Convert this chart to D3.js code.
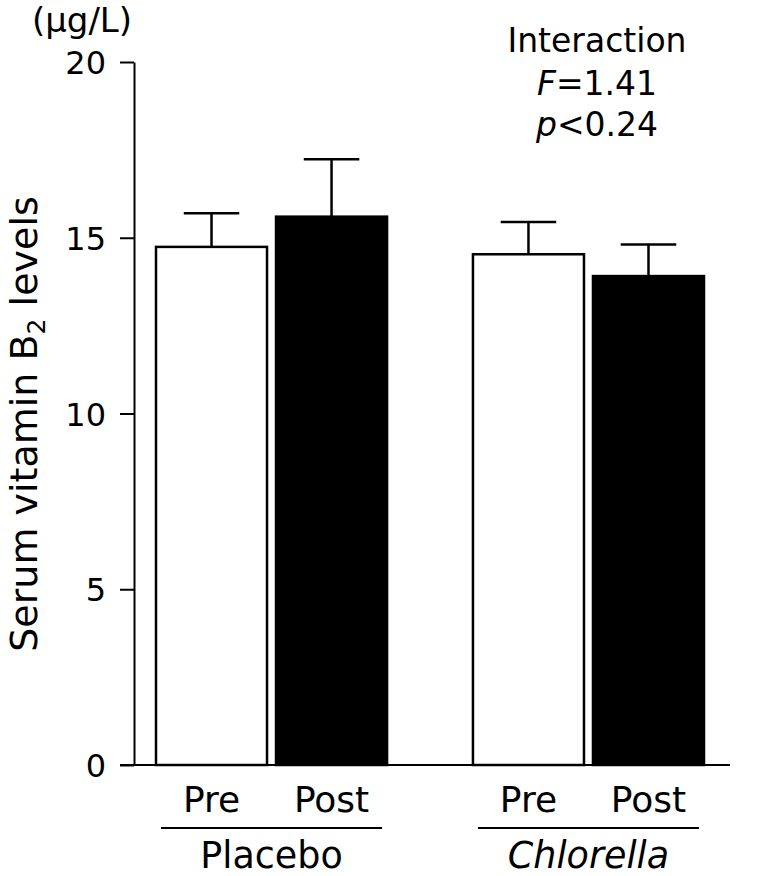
<!DOCTYPE html>
<html><head><meta charset="utf-8">
<script src="https://cdn.jsdelivr.net/npm/d3@7"></script>
<style>body{margin:0;background:#fff}svg{display:block}text{font-family:"DejaVu Sans",Verdana,sans-serif;fill:#000}</style>
</head><body>
<script>
const groups = ["Placebo", "Chlorella"];
const phases = ["Pre", "Post"];
const means = [14.74, 15.60, 14.53, 13.91];
const errors = [0.96, 1.63, 0.92, 0.90];
const yTicks = [0, 5, 10, 15, 20];

const W = 782, H = 876;
const svg = d3.select("body").append("svg").attr("width", W).attr("height", H);
const y = d3.scaleLinear().domain([0, 20]).range([765, 62]);
const xg = d3.scaleBand().domain(groups).range([156, 704]).paddingInner(0.271).paddingOuter(0);
const xp = d3.scaleBand().domain(phases).range([0, xg.bandwidth()]).paddingInner(0.075).paddingOuter(0);

const data = [];
groups.forEach((g, i) => phases.forEach((p, j) => data.push({g, p, v: means[i*2+j], e: errors[i*2+j]})));

// y axis
const ya = svg.append("g").attr("transform", "translate(134,0)")
  .call(d3.axisLeft(y).tickValues(yTicks).tickSize(14).tickSizeOuter(0).tickPadding(14));
ya.attr("font-size", null).attr("font-family", null);
ya.select(".domain").attr("stroke", "#000").attr("stroke-width", 2);
ya.selectAll(".tick line").attr("stroke-width", 2);
ya.selectAll(".tick text").style("font-size", "32px").style("font-family", "DejaVu Sans").attr("dy", "0.36em");

// x baseline
svg.append("line").attr("x1", 120).attr("x2", 730).attr("y1", y(0)).attr("y2", y(0)).attr("stroke", "#000").attr("stroke-width", 2);

// error bars
const eb = svg.append("g");
data.forEach(d => {
  const cx = xg(d.g) + xp(d.p) + xp.bandwidth()/2;
  const cw = xp.bandwidth()/2;
  eb.append("line").attr("x1", cx).attr("x2", cx).attr("y1", y(d.v)).attr("y2", y(d.v + d.e)).attr("stroke", "#000").attr("stroke-width", 2.5);
  eb.append("line").attr("x1", cx - cw/2).attr("x2", cx + cw/2).attr("y1", y(d.v + d.e)).attr("y2", y(d.v + d.e)).attr("stroke", "#000").attr("stroke-width", 2.5);
});

// bars
svg.append("g").selectAll("rect").data(data).join("rect")
  .attr("x", d => xg(d.g) + xp(d.p))
  .attr("width", xp.bandwidth())
  .attr("y", d => y(d.v))
  .attr("height", d => y(0) - y(d.v))
  .attr("fill", d => d.p === "Pre" ? "#fff" : "#000")
  .attr("stroke", "#000").attr("stroke-width", 2.5);

// phase labels
data.forEach(d => {
  svg.append("text").attr("x", xg(d.g) + xp(d.p) + xp.bandwidth()/2).attr("y", 812)
    .attr("text-anchor", "middle").style("font-size", "36px").text(d.p);
});
// group lines and labels
groups.forEach((g, i) => {
  const cx = xg(g) + xg.bandwidth()/2;
  svg.append("line").attr("x1", cx - 110.5).attr("x2", cx + 110.5).attr("y1", 828).attr("y2", 828).attr("stroke", "#000").attr("stroke-width", 2);
  svg.append("text").attr("x", cx).attr("y", 868).attr("text-anchor", "middle").style("font-size", "36.5px")
    .style("font-style", i === 1 ? "italic" : "normal").text(g);
});

// y label
const yl = svg.append("text").attr("transform", "translate(37,424) rotate(-90)").attr("text-anchor", "middle").style("font-size", "38px");
yl.append("tspan").text("Serum vitamin B");
yl.append("tspan").style("font-size", "25px").attr("dy", 8).text("2");
yl.append("tspan").attr("dy", -8).text(" levels");

// unit
svg.append("text").attr("x", 82).attr("y", 32).attr("text-anchor", "middle").style("font-size", "34px").text("(µg/L)");

// annotation
const ax = 597;
svg.append("text").attr("x", ax).attr("y", 52).attr("text-anchor", "middle").style("font-size", "33px").text("Interaction");
const f = svg.append("text").attr("x", ax).attr("y", 95).attr("text-anchor", "middle").style("font-size", "33px");
f.append("tspan").style("font-style", "italic").text("F");
f.append("tspan").text("=1.41");
const p = svg.append("text").attr("x", ax).attr("y", 136).attr("text-anchor", "middle").style("font-size", "33px");
p.append("tspan").style("font-style", "italic").text("p");
p.append("tspan").text("<0.24");
</script>
</body></html>
